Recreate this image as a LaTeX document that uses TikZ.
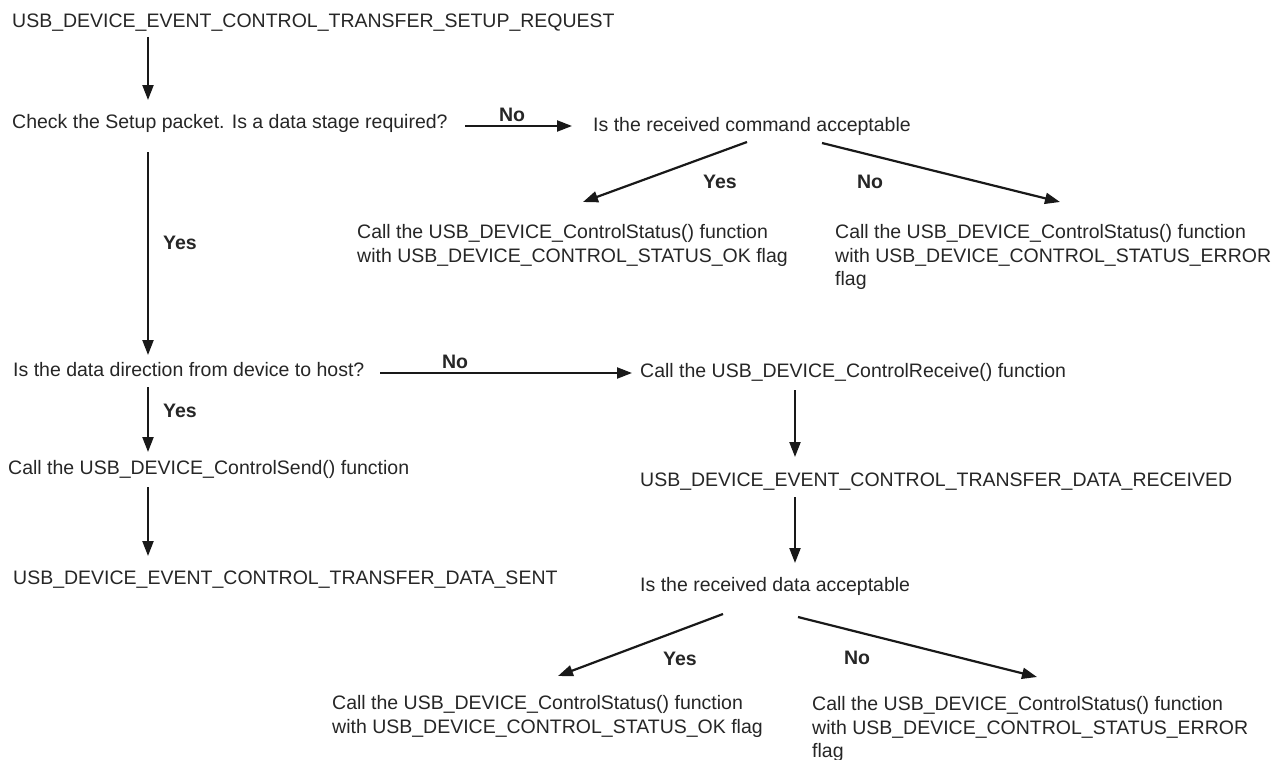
\documentclass[tikz,border=0pt]{standalone}
\usepackage{fontspec}
\setmainfont{Liberation Sans}
\usetikzlibrary{arrows.meta,calc}
\begin{document}
\begin{tikzpicture}[x=1pt,y=-1pt,
  txt/.style={inner sep=0pt, anchor=base west, font=\fontsize{19.5}{23.5}\selectfont, text=black!85},
  mtxt/.style={txt, anchor=north west, align=left},
  lbl/.style={inner sep=0pt, font=\fontsize{19.5}{23.5}\selectfont\bfseries, text=black!85},
  arr/.style={draw=black!90, line width=2.2pt, -{Triangle[length=15pt,width=11pt]}}]
\useasboundingbox (0,0) rectangle (1285,760);
\fill[white] (0,0) rectangle (1285,760);

% texts
\node[txt] (t1) at (12,27.5) {USB\_DEVICE\_EVENT\_CONTROL\_TRANSFER\_SETUP\_REQUEST};
\node[txt] (t2) at (12,128.5) {Check the Setup packet. Is a data stage required?};
\node[txt] (t3) at (593,131.5) {Is the received command acceptable};
\node[mtxt] (t4) at (357,224.3) {Call the USB\_DEVICE\_ControlStatus() function\\with USB\_DEVICE\_CONTROL\_STATUS\_OK flag};
\node[mtxt] (t5) at (835,224.3) {Call the USB\_DEVICE\_ControlStatus() function\\with USB\_DEVICE\_CONTROL\_STATUS\_ERROR\\flag};
\node[txt] (t6) at (13,376.5) {Is the data direction from device to host?};
\node[txt] (t7) at (640,377) {Call the USB\_DEVICE\_ControlReceive() function};
\node[txt] (t8) at (8,474.5) {Call the USB\_DEVICE\_ControlSend() function};
\node[txt] (t9) at (13,584.5) {USB\_DEVICE\_EVENT\_CONTROL\_TRANSFER\_DATA\_SENT};
\node[txt] (t10) at (640,486.5) {USB\_DEVICE\_EVENT\_CONTROL\_TRANSFER\_DATA\_RECEIVED};
\node[txt] (t11) at (640,591.5) {Is the received data acceptable};
\node[mtxt] (t12) at (332,695.3) {Call the USB\_DEVICE\_ControlStatus() function\\with USB\_DEVICE\_CONTROL\_STATUS\_OK flag};
\node[mtxt] (t13) at (812,696.3) {Call the USB\_DEVICE\_ControlStatus() function\\with USB\_DEVICE\_CONTROL\_STATUS\_ERROR\\flag};

% labels
\node[lbl] (l1) at (512,115) {No};
\node[lbl] (l2) at (720,182) {Yes};
\node[lbl] (l3) at (870,182) {No};
\node[lbl] (l4) at (180,243) {Yes};
\node[lbl] (l5) at (455,362) {No};
\node[lbl] (l6) at (180,411) {Yes};
\node[lbl] (l7) at (680,659) {Yes};
\node[lbl] (l8) at (857,658) {No};

% connectors
\draw[arr] ($(t1.base west)+(136,9.5)$) -- ($(t2.base west)+(136,-28.5)$);
\draw[arr] ($(t2.base west)+(453,-2.5)$) -- ($(t3.base west)+(-21,-5.5)$);
\draw[arr] ($(t3.base west)+(154,10.5)$) -- ($(t4.north west)+(226,-22.3)$);
\draw[arr] ($(t3.base west)+(229,11.5)$) -- ($(t5.north west)+(225,-22.3)$);
\draw[arr] ($(t2.base west)+(136,23.5)$) -- ($(t6.base west)+(135,-21.5)$);
\draw[arr] ($(t6.base west)+(367,-3.5)$) -- ($(t7.base west)+(-8,-4)$);
\draw[arr] ($(t6.base west)+(135,10.5)$) -- ($(t8.base west)+(140,-22.5)$);
\draw[arr] ($(t8.base west)+(140,12.5)$) -- ($(t9.base west)+(135,-28.5)$);
\draw[arr] ($(t7.base west)+(155,13)$) -- ($(t10.base west)+(155,-29.5)$);
\draw[arr] ($(t10.base west)+(155,10.5)$) -- ($(t11.base west)+(155,-28.5)$);
\draw[arr] ($(t11.base west)+(83,22.5)$) -- ($(t12.north west)+(226,-19.3)$);
\draw[arr] ($(t11.base west)+(158,25.5)$) -- ($(t13.north west)+(225,-19.3)$);
\end{tikzpicture}
\end{document}
